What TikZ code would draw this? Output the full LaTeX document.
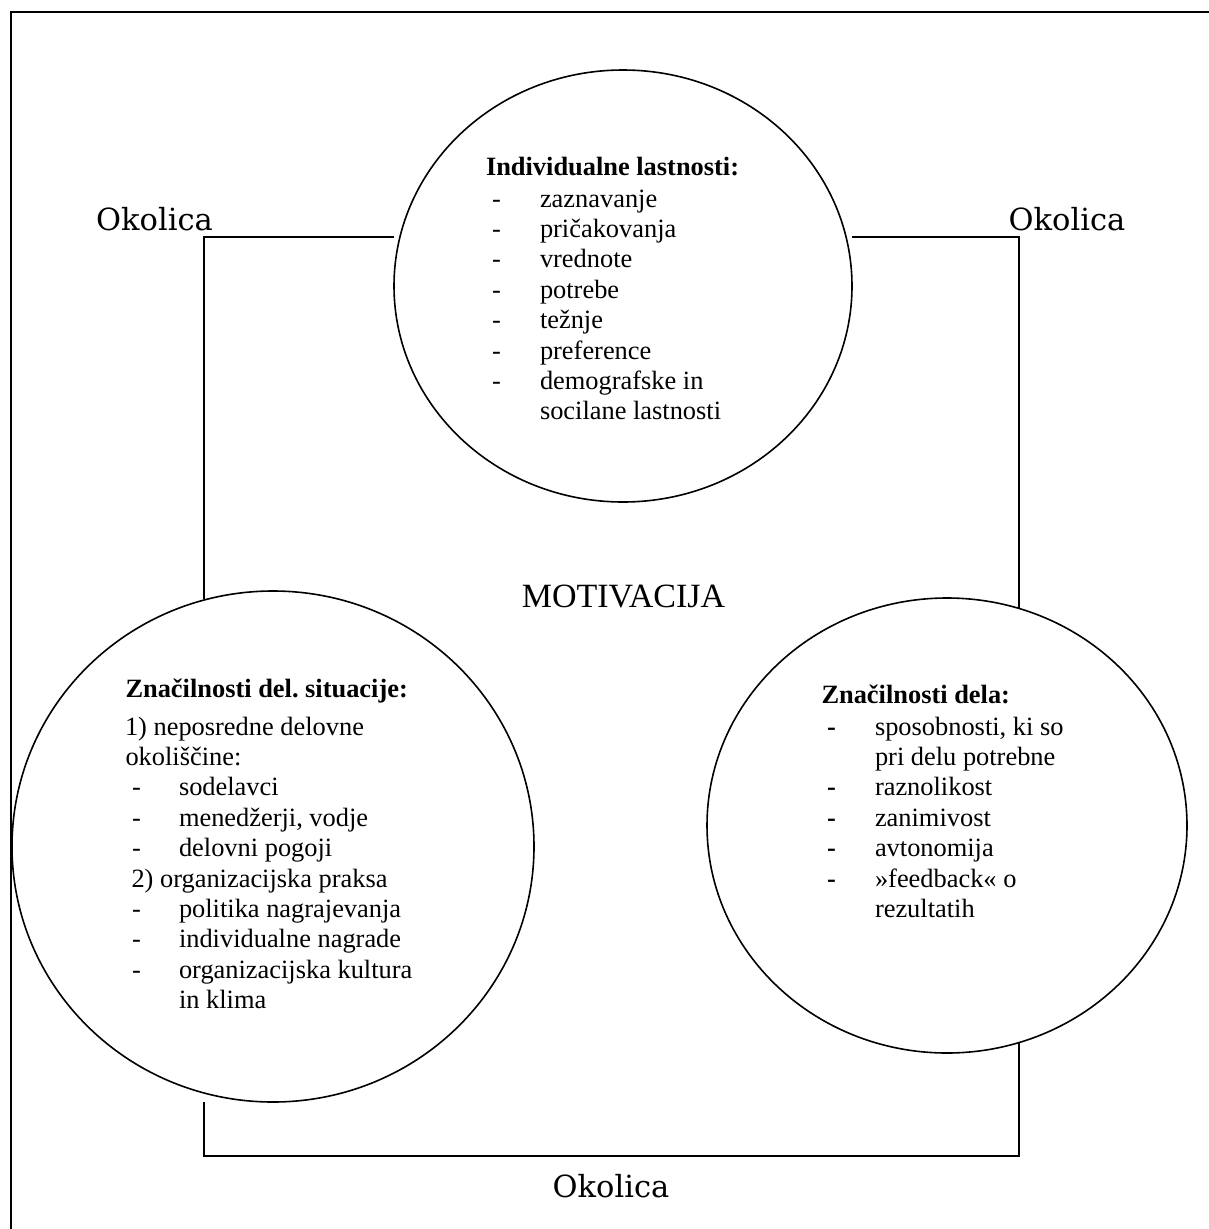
\documentclass[tikz,border=0pt]{standalone}
\usepackage{fontspec}
\setmainfont{Liberation Serif}
\newfontfamily\okfont{DejaVu Serif}
\usetikzlibrary{shapes.geometric}
\newcommand\bodyfont{\fontsize{26.4}{30.4}\selectfont}
\frenchspacing
\begin{document}
\begin{tikzpicture}[x=1pt,y=-1pt,line width=1.6pt,
  circ/.style={draw, ellipse, inner sep=0pt, outer sep=0pt},
  txt/.style={anchor=base west, inner sep=0pt, outer sep=0pt, font=\bodyfont},
  hd/.style={txt, font=\bodyfont\bfseries},
  ok/.style={anchor=base, inner sep=0pt, outer sep=0pt, font=\okfont\fontsize{30.5}{34}\selectfont},
  conn/.style={draw, line width=1.6pt}]
\useasboundingbox (0,0) rectangle (1208,1229);
% outer frame (cut by the page on the right and at the bottom)
\draw (11,1240) -- (11,12) -- (1220,12);

% ellipses
\node[circ, minimum width=458pt, minimum height=432pt] (top) at (623,286) {};
\node[circ, minimum width=522pt, minimum height=511pt] (left) at (273,846.5) {};
\node[circ, minimum width=480pt, minimum height=455pt] (right) at (947,825.5) {};

% connector corners
\coordinate (lt) at (204,237);
\coordinate (rt) at (1019,237);
\coordinate (lb) at (204,1156);
\coordinate (rb) at (1019,1156);

\draw[conn] (top.west |- lt) -- (lt) -- (lt |- left.105.6);
\draw[conn] (top.east |- rt) -- (rt) -- (rt |- right.71.6);
\draw[conn] (left.south -| lb) -- (lb) -- (rb) -- (rb |- right.-71.6);

% labels
\node[ok] (okl) at (154.5,230) {Okolica};
\node[ok] (okr) at (1067,230) {Okolica};
\node[ok] (okb) at (611,1197) {Okolica};
\node[anchor=base, inner sep=0pt, font=\fontsize{34}{38}\selectfont] (mot) at (623.5,607) {MOTIVACIJA};

% top ellipse text
\node[hd] (t0) at (486,175) {Individualne lastnosti:};
\foreach \i/\y/\s in {1/207/zaznavanje, 2/237.4/pričakovanja, 3/267.8/vrednote, 4/298.2/potrebe, 5/328.6/težnje, 6/359/preference, 7/389.4/demografske in}{
  \node[txt] (td\i) at (492,\y) {-};
  \node[txt] (ti\i) at (540,\y) {\s};
}
\node[txt] (ti8) at (540,419.8) {socilane lastnosti};

% left ellipse text
\node[hd] (l0) at (125.5,697) {Značilnosti del. situacije:};
\node[txt] (l1) at (125,735) {1) neposredne delovne};
\node[txt] (l2) at (125.5,765.4) {okoliščine:};
\foreach \i/\y/\s in {3/795.8/sodelavci, 4/826.2/{menedžerji, vodje}, 5/856.6/delovni pogoji, 7/917.4/politika nagrajevanja, 8/947.8/individualne nagrade, 9/978.2/organizacijska kultura}{
  \node[txt] (ld\i) at (132,\y) {-};
  \node[txt] (li\i) at (179,\y) {\s};
}
\node[txt] (l6) at (131.5,887) {2) organizacijska praksa};
\node[txt] (li10) at (179,1008.6) {in klima};

% right ellipse text
\node[hd] (r0) at (821.5,703) {Značilnosti dela:};
\foreach \i/\y/\s in {1/735/{sposobnosti, ki so}, 3/795.5/raznolikost, 4/826/zanimivost, 5/856.5/avtonomija, 6/887/»feedback« o}{
  \node[txt] (rd\i) at (827,\y) {\textbf{-}};
  \node[txt] (ri\i) at (875,\y) {\s};
}
\node[txt] (ri2) at (875,765) {pri delu potrebne};
\node[txt] (ri7) at (875,917) {rezultatih};
\end{tikzpicture}
\end{document}
